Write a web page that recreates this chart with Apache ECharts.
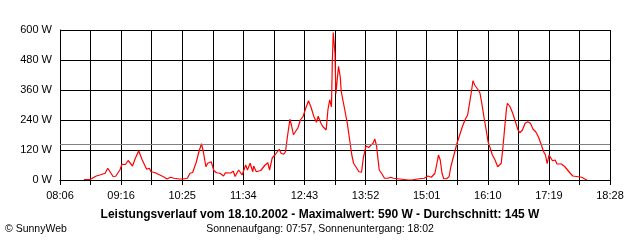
<!DOCTYPE html>
<html>
<head>
<meta charset="utf-8">
<script src="https://cdn.jsdelivr.net/npm/echarts@6/dist/echarts.min.js"></script>
<style>
html,body{margin:0;padding:0;background:#fff;}
#c{width:640px;height:240px;}
</style>
</head>
<body>
<div id="c"></div>
<script>
// Time labels on the x axis (every second grid line)
const tickLabels = ["08:06","09:16","10:25","11:34","12:43","13:52","15:01","16:10","17:19","18:28"];
const yTicks = [0,120,240,360,480,600];
const averageW = 145;
const titleText = "Leistungsverlauf vom 18.10.2002 - Maximalwert: 590 W - Durchschnitt: 145 W";
const subText = "Sonnenaufgang: 07:57, Sonnenuntergang: 18:02";
const copyright = "\u00A9 SunnyWeb";

const times = ["08:33","08:40","08:42","08:47","08:51","08:53","08:57","09:00","09:06","09:09",
"09:14","09:16","09:20","09:23","09:28","09:31","09:35","09:39","09:44","09:47",
"09:49","09:53","09:56","09:59","10:04","10:07","10:11","10:15","10:21","10:25",
"10:30","10:33","10:36","10:40","10:43","10:46","10:48","10:51","10:53","10:57",
"11:00","11:03","11:07","11:11","11:13","11:19","11:22","11:24","11:28","11:32",
"11:36","11:38","11:41","11:44","11:45","11:48","11:53","11:58","12:01","12:03",
"12:06","12:09","12:14","12:16","12:19","12:21","12:23","12:26","12:28","12:30",
"12:32","12:35","12:38","12:41","12:44","12:47","12:50","12:53","12:56","12:58",
"13:01","13:03","13:05","13:07","13:09","13:11","13:13","13:14","13:15","13:17",
"13:18","13:21","13:23","13:24","13:27","13:31","13:34","13:36","13:38","13:42",
"13:44","13:46","13:47","13:49","13:52","13:55","13:57","14:00","14:02","14:04",
"14:07","14:10","14:13","14:17","14:20","14:23","14:25","14:40","14:42","14:44",
"14:50","14:58","15:02","15:06","15:10","15:13","15:14","15:16","15:18","15:20",
"15:23","15:26","15:28","15:30","15:33","15:35","15:38","15:41","15:44","15:47",
"15:49","15:51","15:53","15:55","15:57","15:59","16:01","16:03","16:06","16:08",
"16:10","16:12","16:15","16:18","16:21","16:23","16:25","16:27","16:29","16:31",
"16:32","16:35","16:38","16:41","16:44","16:46","16:49","16:52","16:55","16:58",
"17:01","17:04","17:07","17:10","17:13","17:15","17:17","17:19","17:21","17:23",
"17:26","17:28","17:33","17:37","17:43","17:46","17:52","17:56","18:00","18:02"];

const watts = [2,2,8,16,20,12,27,47,14,15,
42,63,62,78,56,85,117,80,43,47,
33,30,25,20,11,4,11,7,4,4,
7,27,30,70,112,145,115,53,67,73,
38,29,27,16,29,28,35,14,40,20,
60,40,67,33,56,33,38,60,69,40,
88,100,123,107,103,113,168,243,215,181,
175,208,241,255,288,317,290,255,231,255,
228,215,221,200,281,321,293,475,590,505,
345,455,410,355,300,225,150,100,67,45,
33,40,31,87,136,130,123,147,164,136,
40,25,7,7,11,7,0,0,4,0,
4,7,16,11,27,80,100,80,27,5,
5,13,53,80,120,147,180,213,240,260,
267,347,397,380,387,360,347,307,240,200,
155,133,100,80,53,45,67,133,213,287,
307,293,267,233,200,189,200,227,233,227,
203,193,173,144,113,100,65,100,107,77,
80,64,64,53,27,16,13,11,3,0];

function toMin(s){const p=s.split(':');return (+p[0])*60+(+p[1]);}
const startMin = toMin(tickLabels[0]);
const endMin = toMin(tickLabels[tickLabels.length-1]);
const nIntervals = (tickLabels.length-1)*2;
const unit = (endMin-startMin)/nIntervals;
const seriesData = times.map((t,i)=>[(toMin(t)-startMin)/unit, watts[i]]);

const font = "'Liberation Sans', Arial, sans-serif";
const chart = echarts.init(document.getElementById('c'), null, {renderer:'canvas'});
chart.setOption({
  backgroundColor:'#fff',
  animation:false,
  title:[
    {text:titleText, left:'center', top:209, padding:0,
     textStyle:{fontFamily:font, fontSize:12, fontWeight:'bold', color:'#000'}},
    {text:subText, left:'center', top:224, padding:0,
     textStyle:{fontFamily:font, fontSize:10.5, fontWeight:'normal', color:'#000'}},
    {text:copyright, left:5, top:224, padding:0,
     textStyle:{fontFamily:font, fontSize:10.5, fontWeight:'normal', color:'#000'}}
  ],
  grid:{left:60, right:30, top:30, bottom:60, containLabel:false},
  xAxis:{
    type:'value', min:0, max:nIntervals, interval:1,
    axisLine:{show:true, lineStyle:{color:'#000', width:1}},
    axisTick:{show:true, length:5, lineStyle:{color:'#000'}},
    splitLine:{show:true, lineStyle:{color:'#000', width:1}},
    axisLabel:{margin:10, fontFamily:font, fontSize:11, color:'#000',
      showMinLabel:true, showMaxLabel:true,
      formatter:function(v){const r=Math.round(v); return (r%2===0)? tickLabels[r/2] : '';}}
  },
  yAxis:{
    type:'value', min:yTicks[0], max:yTicks[yTicks.length-1], interval:yTicks[1]-yTicks[0],
    axisLine:{show:true, lineStyle:{color:'#000', width:1}},
    axisTick:{show:false},
    splitLine:{show:true, lineStyle:{color:'#000', width:1}},
    axisLabel:{margin:8, fontFamily:font, fontSize:11, color:'#000', formatter:'{value} W'}
  },
  series:[{
    type:'line', data:seriesData, showSymbol:false, symbol:'none',
    lineStyle:{color:'#ff0000', width:1.2}, z:3,
    markLine:{silent:true, symbol:'none', label:{show:false},
      lineStyle:{color:'#808080', type:'solid', width:1},
      data:[{yAxis:averageW}]}
  }]
});
</script>
</body>
</html>
